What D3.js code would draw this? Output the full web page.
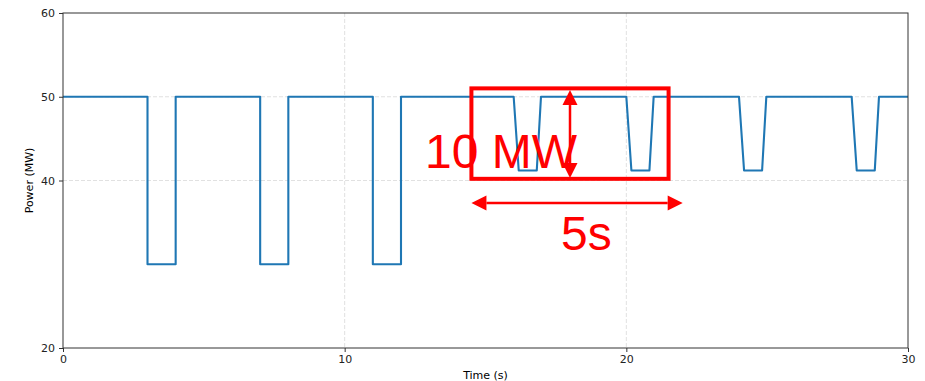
<!DOCTYPE html>
<html>
<head>
    <meta charset="utf-8" />
    <title>Power profile</title>
    <script src="https://d3js.org/d3.v7.min.js"></script>
    <style>
        html, body {
            margin: 0;
            padding: 0;
            background-color: #fff;
        }
        .chart {
            width: 925px;
            height: 381px;
        }
        .tick text {
            font-family: 'DejaVu Sans', sans-serif;
            font-size: 11px;
            fill: #222;
        }
    </style>
</head>
<body>
    <div class="chart"></div>
    <script>
        // power trace
        var timeS  = [0, 3, 3, 4, 4, 7, 7, 8, 8, 11, 11, 12, 12,
                      16, 16.18, 16.82, 16.97,
                      20, 20.18, 20.82, 20.97,
                      24, 24.18, 24.82, 24.97,
                      28, 28.18, 28.82, 28.97, 30];
        var powerMW = [50, 50, 30, 30, 50, 50, 30, 30, 50, 50, 30, 30, 50,
                       50, 41.2, 41.2, 50,
                       50, 41.2, 41.2, 50,
                       50, 41.2, 41.2, 50,
                       50, 41.2, 41.2, 50, 50];

        var xTicks = [0, 10, 20, 30];
        var yTicks = [20, 40, 50, 60];

        // annotation box / arrows, in data units
        var boxX = [14.5, 21.5];
        var boxY = [40.2, 51];
        var vArrow = {x: 18, y: [40.3, 50.8]};
        var hArrow = {y: 37.3, x: [14.5, 22]};
        var labelMW = {x: 12.85, y: 41.45, text: "10 MW"};
        var labelS = {x: 17.68, y: 31.7, text: "5s"};

        var width = 925, height = 381;
        var m = {top: 13, right: 17, bottom: 33, left: 63};
        var w = width - m.left - m.right;
        var h = height - m.top - m.bottom;

        var x = d3.scaleLinear().domain([0, 30]).range([0, w]);
        var y = d3.scaleLinear().domain([20, 60]).range([h, 0]);

        var svg = d3.select(".chart")
            .append("svg")
            .attr("width", width)
            .attr("height", height);

        var g = svg.append("g")
            .attr("transform", "translate(" + m.left + "," + m.top + ")");

        // grid
        g.selectAll(".gx")
            .data(xTicks.filter(function(d) { return d > 0 && d < 30; }))
            .enter().append("line")
            .attr("x1", function(d) { return x(d); })
            .attr("x2", function(d) { return x(d); })
            .attr("y1", 0).attr("y2", h)
            .attr("stroke", "#d9d9d9").attr("stroke-width", 0.8)
            .attr("stroke-dasharray", "4,2");
        g.selectAll(".gy")
            .data(yTicks.filter(function(d) { return d > 20 && d < 60; }))
            .enter().append("line")
            .attr("y1", function(d) { return y(d); })
            .attr("y2", function(d) { return y(d); })
            .attr("x1", 0).attr("x2", w)
            .attr("stroke", "#d9d9d9").attr("stroke-width", 0.8)
            .attr("stroke-dasharray", "4,2");

        // trace
        var line = d3.line()
            .x(function(d) { return x(d[0]); })
            .y(function(d) { return y(d[1]); });
        g.append("path")
            .datum(d3.zip(timeS, powerMW))
            .attr("d", line)
            .attr("fill", "none")
            .attr("stroke", "#1f77b4")
            .attr("stroke-width", 2.1)
            .attr("stroke-linejoin", "round");

        // axes
        var xAxis = g.append("g")
            .attr("transform", "translate(0," + h + ")")
            .call(d3.axisBottom(x).tickValues(xTicks).tickSizeOuter(0).tickSize(4).tickPadding(3));
        var yAxis = g.append("g")
            .call(d3.axisLeft(y).tickValues(yTicks).tickSizeOuter(0).tickSize(4).tickPadding(4));
        [xAxis, yAxis].forEach(function(a) {
            a.select(".domain").remove();
            a.selectAll(".tick line").attr("stroke", "#333").attr("stroke-width", 1);
        });

        // frame
        g.append("rect")
            .attr("width", w).attr("height", h)
            .attr("fill", "none")
            .attr("stroke", "#333").attr("stroke-width", 1);

        g.append("text")
            .attr("x", w / 2).attr("y", h + 31)
            .attr("text-anchor", "middle")
            .style("font-family", "'DejaVu Sans', sans-serif")
            .style("font-size", "11px")
            .text("Time (s)");
        g.append("text")
            .attr("transform", "translate(" + (-34) + "," + (h / 2) + ") rotate(-90)")
            .attr("text-anchor", "middle")
            .attr("dy", "0.35em")
            .style("font-family", "'DejaVu Sans', sans-serif")
            .style("font-size", "11px")
            .text("Power (MW)");

        // annotations
        var red = "#ff0000";
        g.append("rect")
            .attr("x", x(boxX[0])).attr("y", y(boxY[1]))
            .attr("width", x(boxX[1]) - x(boxX[0]))
            .attr("height", y(boxY[0]) - y(boxY[1]))
            .attr("fill", "none")
            .attr("stroke", red).attr("stroke-width", 4);

        [labelMW, labelS].forEach(function(l) {
            g.append("text")
                .attr("x", x(l.x)).attr("y", y(l.y))
                .attr("fill", red)
                .style("font-family", "'Liberation Sans', Arial, sans-serif")
                .style("font-size", "48px")
                .text(l.text);
        });

        function arrow(x1, y1, x2, y2) {
            var hl = 15, hw = 7.5;
            var dx = x2 - x1, dy = y2 - y1;
            var len = Math.sqrt(dx * dx + dy * dy);
            var ux = dx / len, uy = dy / len;
            g.append("line")
                .attr("x1", x1 + ux * hl).attr("y1", y1 + uy * hl)
                .attr("x2", x2 - ux * hl).attr("y2", y2 - uy * hl)
                .attr("stroke", red).attr("stroke-width", 2.5);
            [[x1, y1, -1], [x2, y2, 1]].forEach(function(p) {
                var tx = p[0], ty = p[1], s = p[2];
                var bx = tx - s * ux * hl, by = ty - s * uy * hl;
                g.append("path")
                    .attr("d", "M" + tx + "," + ty +
                        "L" + (bx - uy * hw) + "," + (by + ux * hw) +
                        "L" + (bx + uy * hw) + "," + (by - ux * hw) + "Z")
                    .attr("fill", red);
            });
        }
        arrow(x(vArrow.x), y(vArrow.y[1]), x(vArrow.x), y(vArrow.y[0]));
        arrow(x(hArrow.x[0]), y(hArrow.y), x(hArrow.x[1]), y(hArrow.y));
    </script>
</body>
</html>
